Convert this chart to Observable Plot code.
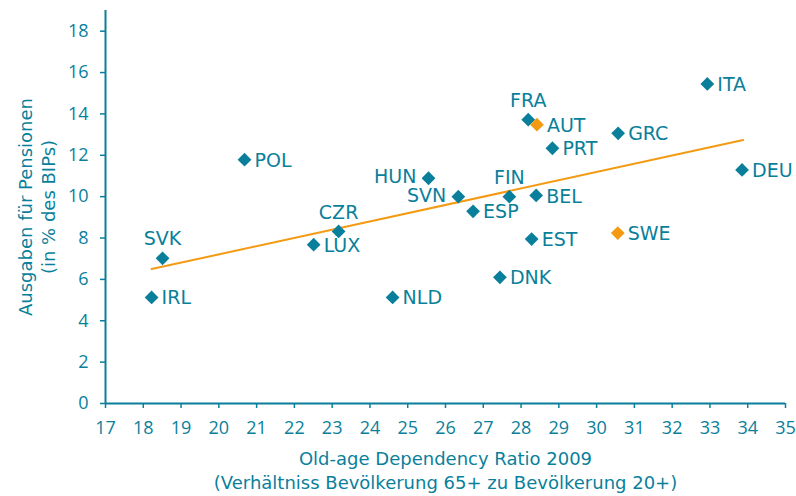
<!DOCTYPE html>
<html>
<head>
<meta charset="utf-8">
<script src="https://cdn.jsdelivr.net/npm/d3@7"></script>
<script src="https://cdn.jsdelivr.net/npm/@observablehq/plot@0.6"></script>
<style>
  body { margin: 0; background: #fff; }
  #chart svg { display: block; }
</style>
</head>
<body>
<div id="chart"></div>
<script>
const countries = ["IRL","SVK","POL","LUX","CZR","NLD","HUN","SVN","ESP","FIN","DNK","FRA","AUT","EST","BEL","PRT","SWE","GRC","ITA","DEU"];
const ratio     = [18.22,18.51,20.68,22.51,23.17,24.60,25.55,26.34,26.73,27.69,27.44,28.19,28.42,28.28,28.40,28.83,30.56,30.57,32.93,33.85];
const pension   = [5.13, 7.02, 11.79,7.68, 8.32, 5.13, 10.89,10.0, 9.29, 10.0, 6.10, 13.72,13.48,7.95, 10.06,12.34,8.24, 13.06,15.45,11.29];
const highlight = ["AUT","SWE"];
const labelPos  = ["right","top","right","right","top","right","left","left","right","top","right","top","right","right","right","right","right","right","right","right"];
const trendX = [18.22, 33.88];
const trendY = [6.50, 12.74];
const xTicks = d3.range(17, 36, 1);
const yTicks = d3.range(0, 19, 2);

const teal = "#0a7f9b";
const orange = "#f39a12";

const data = countries.map((c, i) => ({c, x: ratio[i], y: pension[i], hi: highlight.includes(c), pos: labelPos[i]}));
const trend = trendX.map((x, i) => ({x, y: trendY[i]}));

const font = "'DejaVu Sans', sans-serif";
const tickFont = "'Open Sans', sans-serif";

const chart = Plot.plot({
  width: 796,
  height: 496,
  marginLeft: 105,
  marginRight: 11,
  marginTop: 10,
  marginBottom: 93,
  style: {fontFamily: font, fontSize: "16px", color: teal, background: "#fff"},
  x: {domain: [17, 35], label: null},
  y: {domain: [0, 19], label: null},
  marks: [
    Plot.ruleX([17], {stroke: teal, strokeWidth: 2}),
    Plot.ruleY([0], {stroke: teal, strokeWidth: 2}),
    Plot.axisX({ticks: xTicks, tickSize: 5, tickPadding: 13, stroke: teal, strokeWidth: 1.5, fill: teal, fontSize: 18, fontFamily: tickFont, label: null}),
    Plot.axisY({ticks: yTicks, tickSize: 5, tickPadding: 12, stroke: teal, strokeWidth: 1.5, fill: teal, fontSize: 18, fontFamily: tickFont, label: null}),
    Plot.line(trend, {x: "x", y: "y", stroke: orange, strokeWidth: 2}),
    Plot.dot(data, {x: "x", y: "y", symbol: "diamond2", r: 6.2, fill: d => d.hi ? orange : teal, stroke: "none"}),
    Plot.text(data.filter(d => d.pos === "right"), {x: "x", y: "y", text: "c", textAnchor: "start", dx: 10, dy: 1, fill: teal, fontSize: 19}),
    Plot.text(data.filter(d => d.pos === "left"), {x: "x", y: "y", text: "c", textAnchor: "end", dx: -12, dy: -1, fill: teal, fontSize: 19}),
    Plot.text(data.filter(d => d.pos === "top"), {x: "x", y: "y", text: "c", textAnchor: "middle", dy: -19, fill: teal, fontSize: 19}),
    Plot.text(["Old-age Dependency Ratio 2009\n(Verhältniss Bevölkerung 65+ zu Bevölkerung 20+)"], {frameAnchor: "bottom", dy: 85, fill: teal, fontSize: 18, lineHeight: 1.33}),
    Plot.text(["Ausgaben für Pensionen\n(in % des BIPs)"], {frameAnchor: "left", textAnchor: "middle", lineAnchor: "middle", dx: -69, rotate: -90, fill: teal, fontSize: 18, lineHeight: 1.28})
  ]
});
document.getElementById("chart").appendChild(chart);
</script>
</body>
</html>
